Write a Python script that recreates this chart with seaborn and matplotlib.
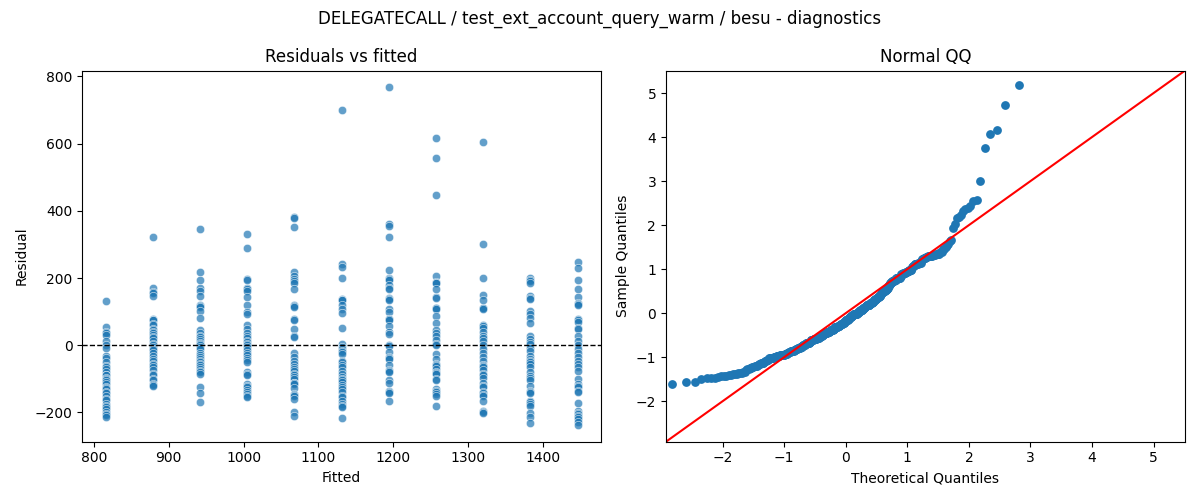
import statistics
import numpy as np
import pandas as pd
import matplotlib
matplotlib.use("Agg")
import matplotlib.pyplot as plt
import seaborn as sns

# fitted levels (one column of points per level)
fitted_levels = [816, 879, 942, 1005, 1068, 1131, 1194, 1257, 1320, 1383, 1446]

# residuals read per fitted level (overlapping points in the dense middle repeated)
res_816 = [133, 55, 38, 35, 30, 13, 0, -8, -32, -38, -50, -61, -65, -71, -81, -89, -90, -99,
           -100, -105, -110, -115, -125, -128, -130, -140, -142, -152, -160, -162, -175, -182,
           -185, -190, -200, -205, -208, -215]
res_879 = [323, 169, 159, 155, 146, 79, 76, 74, 62, 60, 49, 45, 40, 35, 30, 23, 20, 13, 5, 0,
           -5, -10, -15, -22, -32, -40, -46, -56, -60, -66, -75, -86, -90, -101, -105, -116,
           -118, -121]
res_942 = [346, 218, 193, 171, 161, 146, 121, 118, 114, 102, 82, 45, 35, 28, 24, 18, 12, 8, 5,
           0, -5, -10, -22, -30, -34, -40, -46, -50, -56, -60, -64, -71, -78, -81, -86, -125,
           -143, -170]
res_1005 = [331, 289, 198, 194, 170, 166, 161, 144, 121, 99, 92, 59, 47, 35, 28, 22, 13, 10, 5,
            0, -5, -14, -22, -30, -37, -45, -51, -81, -85, -89, -116, -120, -125, -133, -140,
            -145, -150, -155]
res_1068 = [381, 378, 352, 217, 207, 198, 190, 184, 168, 121, 118, 114, 79, 75, 49, 28, 23, -24,
            -35, -46, -56, -66, -70, -76, -86, -90, -96, -100, -111, -113, -116, -128, -145,
            -148, -150, -160, -200, -211]
res_1131 = [701, 243, 233, 201, 138, 136, 134, 119, 109, 97, 52, 3, -4, -10, -17, -20, -27, -46,
            -50, -59, -65, -76, -86, -96, -100, -105, -110, -119, -125, -131, -140, -150, -155,
            -165, -175, -180, -185, -217]
res_1194 = [767, 362, 356, 322, 225, 200, 196, 194, 178, 170, 166, 141, 137, 134, 109, 99, 79,
            77, 75, 57, 40, 33, 0, -2, -20, -35, -38, -41, -60, -73, -78, -81, -103, -111, -135,
            -140, -143, -165]
res_1257 = [616, 556, 447, 207, 188, 186, 184, 166, 143, 141, 112, 110, 107, 87, 67, 45, 35, 26,
            15, 3, 0, -27, -40, -56, -58, -61, -70, -81, -83, -86, -100, -105, -130, -135, -138,
            -145, -150, -180]
res_1320 = [604, 301, 201, 148, 134, 112, 110, 107, 59, 56, 52, 38, 28, 20, 13, 0, -10, -22,
            -34, -46, -59, -62, -66, -75, -86, -90, -99, -111, -121, -125, -140, -143, -147,
            -150, -165, -195, -198, -202]
res_1383 = [201, 194, 190, 186, 146, 140, 138, 102, 92, 82, 67, 28, 18, 10, 3, -7, -17, -32,
            -40, -46, -50, -56, -66, -80, -91, -99, -105, -121, -135, -138, -142, -165, -170,
            -175, -182, -202, -214, -231]
res_1446 = [248, 230, 193, 168, 144, 126, 122, 119, 77, 74, 69, 52, 49, 28, 13, 0, -10, -22, -35,
            -46, -55, -66, -76, -100, -116, -120, -125, -135, -140, -172, -195, -202, -205, -210,
            -215, -219, -229, -237]

residual_groups = [res_816, res_879, res_942, res_1005, res_1068, res_1131,
                   res_1194, res_1257, res_1320, res_1383, res_1446]

rows = []
for level, group in zip(fitted_levels, residual_groups):
    for r in group:
        rows.append({"fitted": level, "resid": r})
df = pd.DataFrame(rows)

# normal QQ of standardized residuals
resid = df["resid"].to_numpy(dtype=float)
std_resid = np.sort((resid - resid.mean()) / resid.std())
n = len(std_resid)
nd = statistics.NormalDist()
theo = np.array([nd.inv_cdf(i / (n + 1)) for i in range(1, n + 1)])
qq = pd.DataFrame({"theoretical": theo, "sample": std_resid})

fig, (ax1, ax2) = plt.subplots(1, 2, figsize=(12, 5))

sns.scatterplot(data=df, x="fitted", y="resid", alpha=0.7, ax=ax1)
ax1.axhline(0, color="black", linestyle="--", linewidth=1)
ax1.set_xlabel("Fitted")
ax1.set_ylabel("Residual")
ax1.set_title("Residuals vs fitted")

sns.scatterplot(data=qq, x="theoretical", y="sample", color="C0", s=40, linewidth=0, ax=ax2)
ax2.set_xlim(-2.92, 5.51)
ax2.set_ylim(-2.92, 5.51)
ax2.axline((0, 0), slope=1, color="red", linewidth=1.5)
ax2.set_xlabel("Theoretical Quantiles")
ax2.set_ylabel("Sample Quantiles")
ax2.set_title("Normal QQ")

fig.suptitle("DELEGATECALL / test_ext_account_query_warm / besu - diagnostics")
fig.tight_layout()
fig.savefig("out.png", dpi=100)
